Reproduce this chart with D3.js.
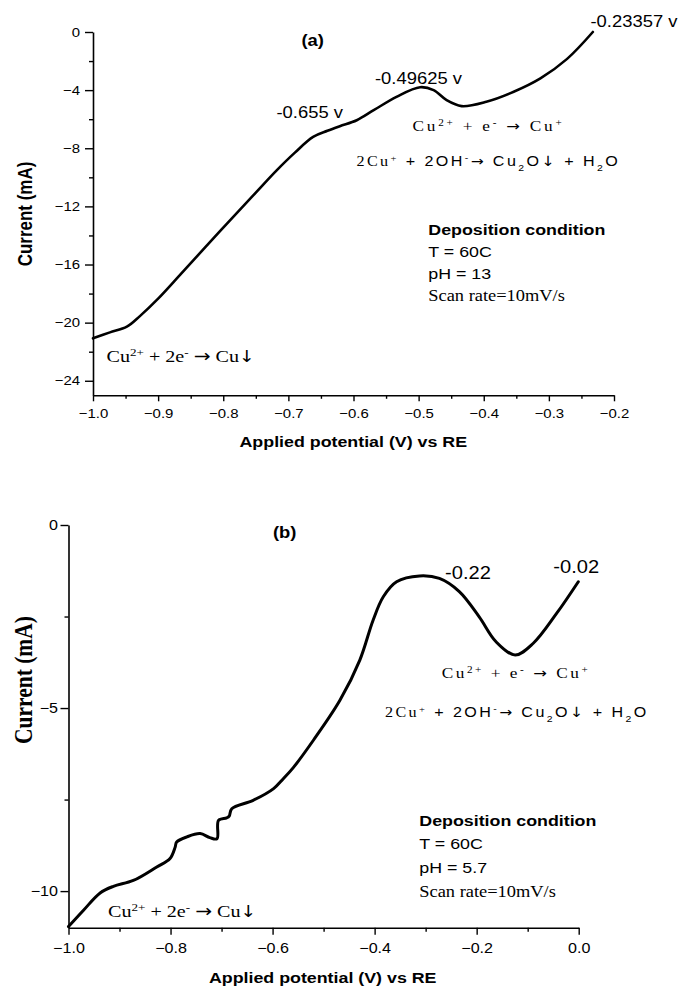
<!DOCTYPE html>
<html><head><meta charset="utf-8">
<script src="https://cdn.jsdelivr.net/npm/d3@7"></script>
<style>body{margin:0;background:#fff} svg{display:block}</style>
</head><body>
<svg id="c" width="680" height="988"></svg>
<script>
// ---------- data: panel (a), pH 13 ----------
const aPotential = [-1.0, -0.974, -0.948, -0.928, -0.9, -0.866, -0.805, -0.75, -0.718, -0.69, -0.662, -0.64, -0.621, -0.595, -0.569, -0.534, -0.4977, -0.477, -0.457, -0.434, -0.396, -0.354, -0.313, -0.272, -0.2325];
const aCurrent   = [-21.08, -20.67, -20.28, -19.55, -18.35, -16.7, -13.7, -11.05, -9.52, -8.3, -7.22, -6.8, -6.48, -6.07, -5.38, -4.46, -3.80, -4.0, -4.69, -5.10, -4.80, -4.11, -3.19, -1.85, 0.0];
const aXTicks = [-1.0, -0.9, -0.8, -0.7, -0.6, -0.5, -0.4, -0.3, -0.2];
const aXMinor = [-0.95, -0.85, -0.75, -0.65, -0.55, -0.45, -0.35, -0.25];
const aYTicks = [0, -4, -8, -12, -16, -20, -24];
const aYMinor = [-2, -6, -10, -14, -18, -22];
const aPeakLabels = ["-0.655 v", "-0.49625 v", "-0.23357 v"];
const aConditions = ["T = 60C", "pH = 13"];

// ---------- data: panel (b), pH 5.7 ----------
const bPotential = [-1.0, -0.971, -0.938, -0.912, -0.873, -0.827, -0.801, -0.791, -0.788, -0.768, -0.742, -0.723, -0.709, -0.706, -0.690, -0.685, -0.680, -0.638, -0.598, -0.579, -0.559, -0.52, -0.468, -0.429, -0.403, -0.383, -0.357, -0.312, -0.273, -0.234, -0.195, -0.162, -0.1245, -0.089, -0.043, -0.0008];
const bCurrent   = [-10.97, -10.53, -10.05, -9.87, -9.71, -9.34, -9.11, -8.80, -8.66, -8.52, -8.43, -8.54, -8.57, -8.07, -8.0, -7.95, -7.75, -7.52, -7.2, -6.93, -6.62, -5.88, -4.79, -3.69, -2.60, -1.96, -1.55, -1.39, -1.46, -1.82, -2.51, -3.19, -3.55, -3.23, -2.41, -1.55];
const bXTicks = [-1.0, -0.8, -0.6, -0.4, -0.2, 0.0];
const bXMinor = [-0.9, -0.7, -0.5, -0.3, -0.1];
const bYTicks = [0, -5, -10];
const bYMinor = [-2.5, -7.5];
const bPeakLabels = ["-0.22", "-0.02"];
const bConditions = ["T = 60C", "pH = 5.7"];

const xTitle = "Applied potential (V) vs RE";
const yTitle = "Current (mA)";

const SANS = "'Liberation Sans', Arial, Helvetica, sans-serif";
const SERIF = "'Liberation Serif', 'Times New Roman', serif";
const ARROW = "'DejaVu Sans', sans-serif";
const S = 1.15; // horizontal glyph stretch seen in the reference

const svg = d3.select("#c");

function addText(g, x, y, parts, o) {
  const t = g.append("text")
    .attr("transform", `translate(${x},${y}) scale(${S},1)` + (o.rotate ? " rotate(-90)" : ""))
    .attr("text-anchor", o.anchor || "start")
    .attr("font-family", o.family || SANS)
    .attr("font-size", o.size)
    .attr("font-weight", o.weight || "normal")
    .attr("letter-spacing", o.ls || 0)
    .attr("fill", "#000");
  parts.forEach(p => {
    const s = typeof p === "string" ? {t: p} : p;
    const ts = t.append("tspan").text(s.t);
    if (s.sup) ts.attr("baseline-shift", "super").attr("font-size", o.size * 0.65);
    if (s.sub) ts.attr("baseline-shift", "sub").attr("font-size", o.size * 0.65);
    if (s.family) ts.attr("font-family", s.family);
    if (s.arrow) ts.attr("font-family", ARROW).attr("font-size", o.size * (s.scale || 1));
  });
  return t;
}

function drawPanel(o) {
  const g = svg.append("g");
  const x = o.x, y = o.y;
  const bottom = y.range()[0], left = x.range()[0];

  const xm = g.append("g").attr("transform", `translate(0,${bottom})`)
    .call(d3.axisBottom(x).tickValues(o.xMinor).tickSize(o.xMinorLen).tickFormat("").tickSizeOuter(0));
  xm.select(".domain").remove();
  const ym = g.append("g").attr("transform", `translate(${left},0)`)
    .call(d3.axisLeft(y).tickValues(o.yMinor).tickSize(4).tickFormat("").tickSizeOuter(0));
  ym.select(".domain").remove();

  const xa = g.append("g").attr("transform", `translate(0,${bottom})`)
    .call(d3.axisBottom(x).tickValues(o.xTicks).tickSize(o.xTickLen).tickPadding(o.xPad)
      .tickFormat(d3.format(".1f")).tickSizeOuter(0));
  const ya = g.append("g").attr("transform", `translate(${left},0)`)
    .call(d3.axisLeft(y).tickValues(o.yTicks).tickSize(8).tickPadding(o.yPad)
      .tickFormat(d3.format("d")).tickSizeOuter(0));

  [xm, ym, xa, ya].forEach(a => {
    a.selectAll("line").attr("stroke", "#000").attr("stroke-width", 1.4);
    a.selectAll(".domain").attr("stroke", "#000").attr("stroke-width", 1.6);
  });
  xa.selectAll("text").attr("font-family", SANS).attr("font-size", o.tickFont).attr("fill", "#000")
    .attr("transform", `scale(${S},1)`);
  ya.selectAll("text").attr("font-family", SANS).attr("font-size", o.tickFont).attr("fill", "#000")
    .attr("transform", `translate(${-(8 + o.yPad)},0) scale(${S},1)`).attr("x", 0);

  const line = d3.line().x(d => x(d[0])).y(d => y(d[1])).curve(d3.curveCatmullRom.alpha(0.5));
  g.append("path").datum(d3.zip(o.pot, o.cur)).attr("d", line)
    .attr("fill", "none").attr("stroke", "#000").attr("stroke-width", o.lw)
    .attr("stroke-linejoin", "round").attr("stroke-linecap", "round");
  return g;
}

const eq1 = ["Cu", {t: "2+", sup: 1}, " + e", {t: "-", sup: 1}, " ", {t: "\u2192", arrow: 1, scale: 0.95}, " Cu", {t: "+", sup: 1}];
const eq2 = [{t: "2Cu", family: SERIF}, {t: "+", sup: 1, family: SERIF}, " + 2OH", {t: "-", sup: 1}, {t: "\u2192", arrow: 1, scale: 0.95}, " Cu", {t: "2", sub: 1}, "O", {t: "\u2193", arrow: 1, scale: 1}, " + H", {t: "2", sub: 1}, "O"];
const eq0 = ["Cu", {t: "2+", sup: 1}, " + 2e", {t: "-", sup: 1}, " ", {t: "\u2192", arrow: 1, scale: 1.0}, " Cu", {t: "\u2193", arrow: 1, scale: 0.95}];

// ---------- panel (a) ----------
const xA = d3.scaleLinear().domain([-1.0, -0.2]).range([93, 614]);
const yA = d3.scaleLinear().domain([-25, 0]).range([395.3, 32]);
const gA = drawPanel({x: xA, y: yA, pot: aPotential, cur: aCurrent, xTicks: aXTicks, xMinor: aXMinor,
  yTicks: aYTicks, yMinor: aYMinor, xTickLen: 6, xMinorLen: 3.5, xPad: 7.5, yPad: 5, tickFont: 13, lw: 2.6});

addText(gA, 301.5, 46, ["(a)"], {size: 16, weight: "bold"});
addText(gA, 276.5, 118, [aPeakLabels[0]], {size: 16});
addText(gA, 375, 84, [aPeakLabels[1]], {size: 16});
addText(gA, 590.5, 27, [aPeakLabels[2]], {size: 16});
addText(gA, 412.5, 130.5, eq1, {size: 15, family: SERIF, ls: 2.4});
addText(gA, 356.5, 165.5, eq2, {size: 14, ls: 2.1});
addText(gA, 428.3, 235, ["Deposition condition"], {size: 15.5, weight: "bold"});
addText(gA, 428.3, 256.7, [aConditions[0]], {size: 15.5});
addText(gA, 428.3, 279.3, [aConditions[1]], {size: 15.5});
addText(gA, 428.3, 300.7, ["Scan rate=10mV/s"], {size: 16, family: SERIF});
addText(gA, 106.5, 362, eq0, {size: 17.5, family: SERIF});
addText(gA, 353.3, 446.5, [xTitle], {size: 15.5, weight: "bold", anchor: "middle"});
addText(gA, 31.5, 214, [yTitle], {size: 17, weight: "bold", anchor: "middle", rotate: 1});

// ---------- panel (b) ----------
const xB = d3.scaleLinear().domain([-1.0, 0.0]).range([68.5, 578.7]);
const yB = d3.scaleLinear().domain([-11, 0]).range([927.7, 525]);
const gB = drawPanel({x: xB, y: yB, pot: bPotential, cur: bCurrent, xTicks: bXTicks, xMinor: bXMinor,
  yTicks: bYTicks, yMinor: bYMinor, xTickLen: 7, xMinorLen: 4, xPad: 8.7, yPad: 2.5, tickFont: 14, lw: 3});

addText(gB, 273, 538, ["(b)"], {size: 16, weight: "bold"});
addText(gB, 445, 579, [bPeakLabels[0]], {size: 17.5});
addText(gB, 553.3, 573.3, [bPeakLabels[1]], {size: 17.5});
addText(gB, 441.7, 678, eq1, {size: 15, family: SERIF, ls: 2.2});
addText(gB, 385, 716.5, eq2, {size: 14, ls: 2.1});
addText(gB, 419.3, 826, ["Deposition condition"], {size: 15.5, weight: "bold"});
addText(gB, 419.3, 849.3, [bConditions[0]], {size: 15.5});
addText(gB, 419.3, 873.3, [bConditions[1]], {size: 15.5});
addText(gB, 419.3, 896.7, ["Scan rate=10mV/s"], {size: 16, family: SERIF});
addText(gB, 108, 917, eq0, {size: 17.5, family: SERIF});
addText(gB, 322.7, 983, [xTitle], {size: 15.5, weight: "bold", anchor: "middle"});
addText(gB, 31.7, 680, [yTitle], {size: 21.5, weight: "bold", anchor: "middle", rotate: 1, family: SERIF});
</script>
</body></html>
